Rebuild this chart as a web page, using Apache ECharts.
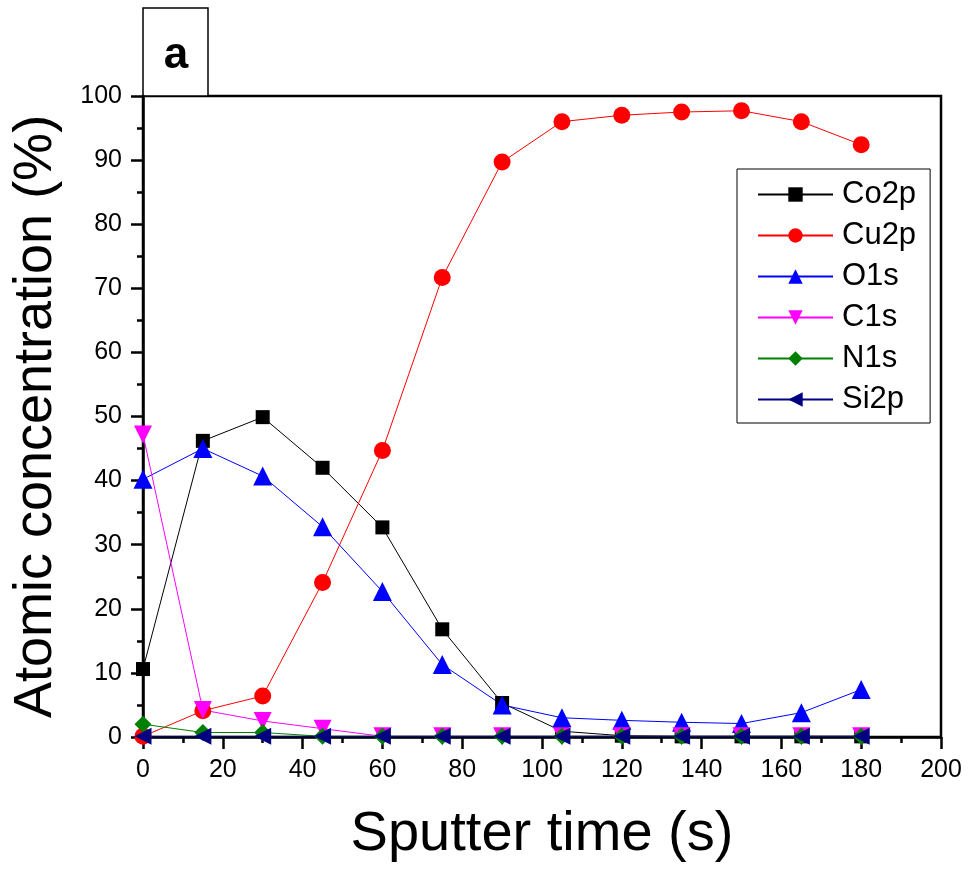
<!DOCTYPE html>
<html>
<head>
<meta charset="utf-8">
<script src="https://cdn.jsdelivr.net/npm/echarts@6/dist/echarts.min.js"></script>
<style>
  html, body { margin: 0; padding: 0; background: #fff; }
  #chart { width: 969px; height: 869px; }
</style>
</head>
<body>
<div id="chart"></div>
<script>
// sputter times (s)
const times = [0, 15, 30, 45, 60, 75, 90, 105, 120, 135, 150, 165, 180];

// atomic concentration (%)
const co2p = [10.6, 46.2, 49.9, 42.0, 32.7, 16.8, 5.3, 0.9, 0.2, 0.1, 0.1, 0.1, 0.1];
const cu2p = [0.1, 4.1, 6.4, 24.1, 44.7, 71.7, 89.7, 96.0, 97.0, 97.5, 97.7, 96.0, 92.4];
const o1s  = [40.2, 45.0, 40.7, 32.8, 22.7, 11.3, 5.0, 3.0, 2.6, 2.3, 2.1, 3.8, 7.4];
const c1s  = [47.2, 4.2, 2.5, 1.3, 0.1, 0.1, 0.1, 0.1, 0.1, 0.1, 0.1, 0.1, 0.1];
const n1s  = [2.0, 0.7, 0.7, 0.1, 0.1, 0.1, 0.1, 0.1, 0.1, 0.1, 0.1, 0.1, 0.1];
const si2p = [0.1, 0.1, 0.1, 0.1, 0.1, 0.1, 0.1, 0.1, 0.1, 0.1, 0.1, 0.1, 0.1];

const FONT = 'Liberation Sans, Arial, sans-serif';

const pairs = vals => times.map((t, i) => [t, vals[i]]);

const mkSeries = (name, vals, color, symbol, size, rotate) => ({
  name: name,
  type: 'line',
  data: pairs(vals),
  symbol: symbol,
  symbolSize: size,
  symbolRotate: rotate || 0,
  lineStyle: { color: color, width: 1 },
  itemStyle: { color: color },
  emphasis: { disabled: true },
  z: 3
});

const chart = echarts.init(document.getElementById('chart'));

const axisCommon = {
  axisLine: { lineStyle: { color: '#000', width: 2.5 } },
  axisTick: { inside: false, length: 12, lineStyle: { color: '#000', width: 2.5 } },
  minorTick: { show: true, splitNumber: 2, length: 6, lineStyle: { color: '#000', width: 2.5 } },
  axisLabel: { fontFamily: FONT, fontSize: 25, color: '#000', margin: 21 },
  splitLine: { show: false }
};

const option = {
  backgroundColor: '#fff',
  animation: false,
  grid: {
    left: 143, right: 28, top: 96, bottom: 132,
    show: true, borderColor: '#000', borderWidth: 2.5, backgroundColor: 'transparent'
  },
  graphic: [
    {
      type: 'rect',
      shape: { x: 143, y: 8, width: 65, height: 88 },
      style: { fill: '#fff', stroke: '#000', lineWidth: 1.5 }
    },
    {
      type: 'text',
      x: 176, y: 56,
      style: { text: 'a', font: 'bold 44px ' + FONT, fill: '#000', align: 'center', verticalAlign: 'middle' }
    }
  ],
  legend: {
    orient: 'vertical',
    left: 737, top: 169,
    padding: [10, 14, 8, 20],
    itemWidth: 75,
    itemHeight: 18,
    itemGap: 10,
    borderColor: '#000',
    borderWidth: 1,
    backgroundColor: '#fff',
    textStyle: { fontFamily: FONT, fontSize: 31, lineHeight: 31, color: '#000', padding: [0, 0, 0, 4] },
    data: ['Co2p', 'Cu2p', 'O1s', 'C1s', 'N1s', 'Si2p']
  },
  xAxis: Object.assign({}, axisCommon, {
    type: 'value',
    min: 0, max: 200, interval: 20,
    name: 'Sputter time (s)',
    nameLocation: 'middle',
    nameGap: 70,
    nameTextStyle: { fontFamily: FONT, fontSize: 56, color: '#000' }
  }),
  yAxis: Object.assign({}, axisCommon, {
    type: 'value',
    min: 0, max: 100, interval: 10,
    name: 'Atomic concentration (%)',
    nameLocation: 'middle',
    nameGap: 80,
    nameTextStyle: { fontFamily: FONT, fontSize: 54, color: '#000' }
  }),
  series: [
    mkSeries('Co2p', co2p, '#000000', 'rect', 14),
    mkSeries('Cu2p', cu2p, '#ff0000', 'circle', 17),
    mkSeries('O1s', o1s, '#0000ff', 'triangle', 19),
    mkSeries('C1s', c1s, '#ff00ff', 'triangle', 18, 180),
    mkSeries('N1s', n1s, '#008000', 'diamond', 17),
    mkSeries('Si2p', si2p, '#000080', 'triangle', 17, 90)
  ]
};

chart.setOption(option);
</script>
</body>
</html>
